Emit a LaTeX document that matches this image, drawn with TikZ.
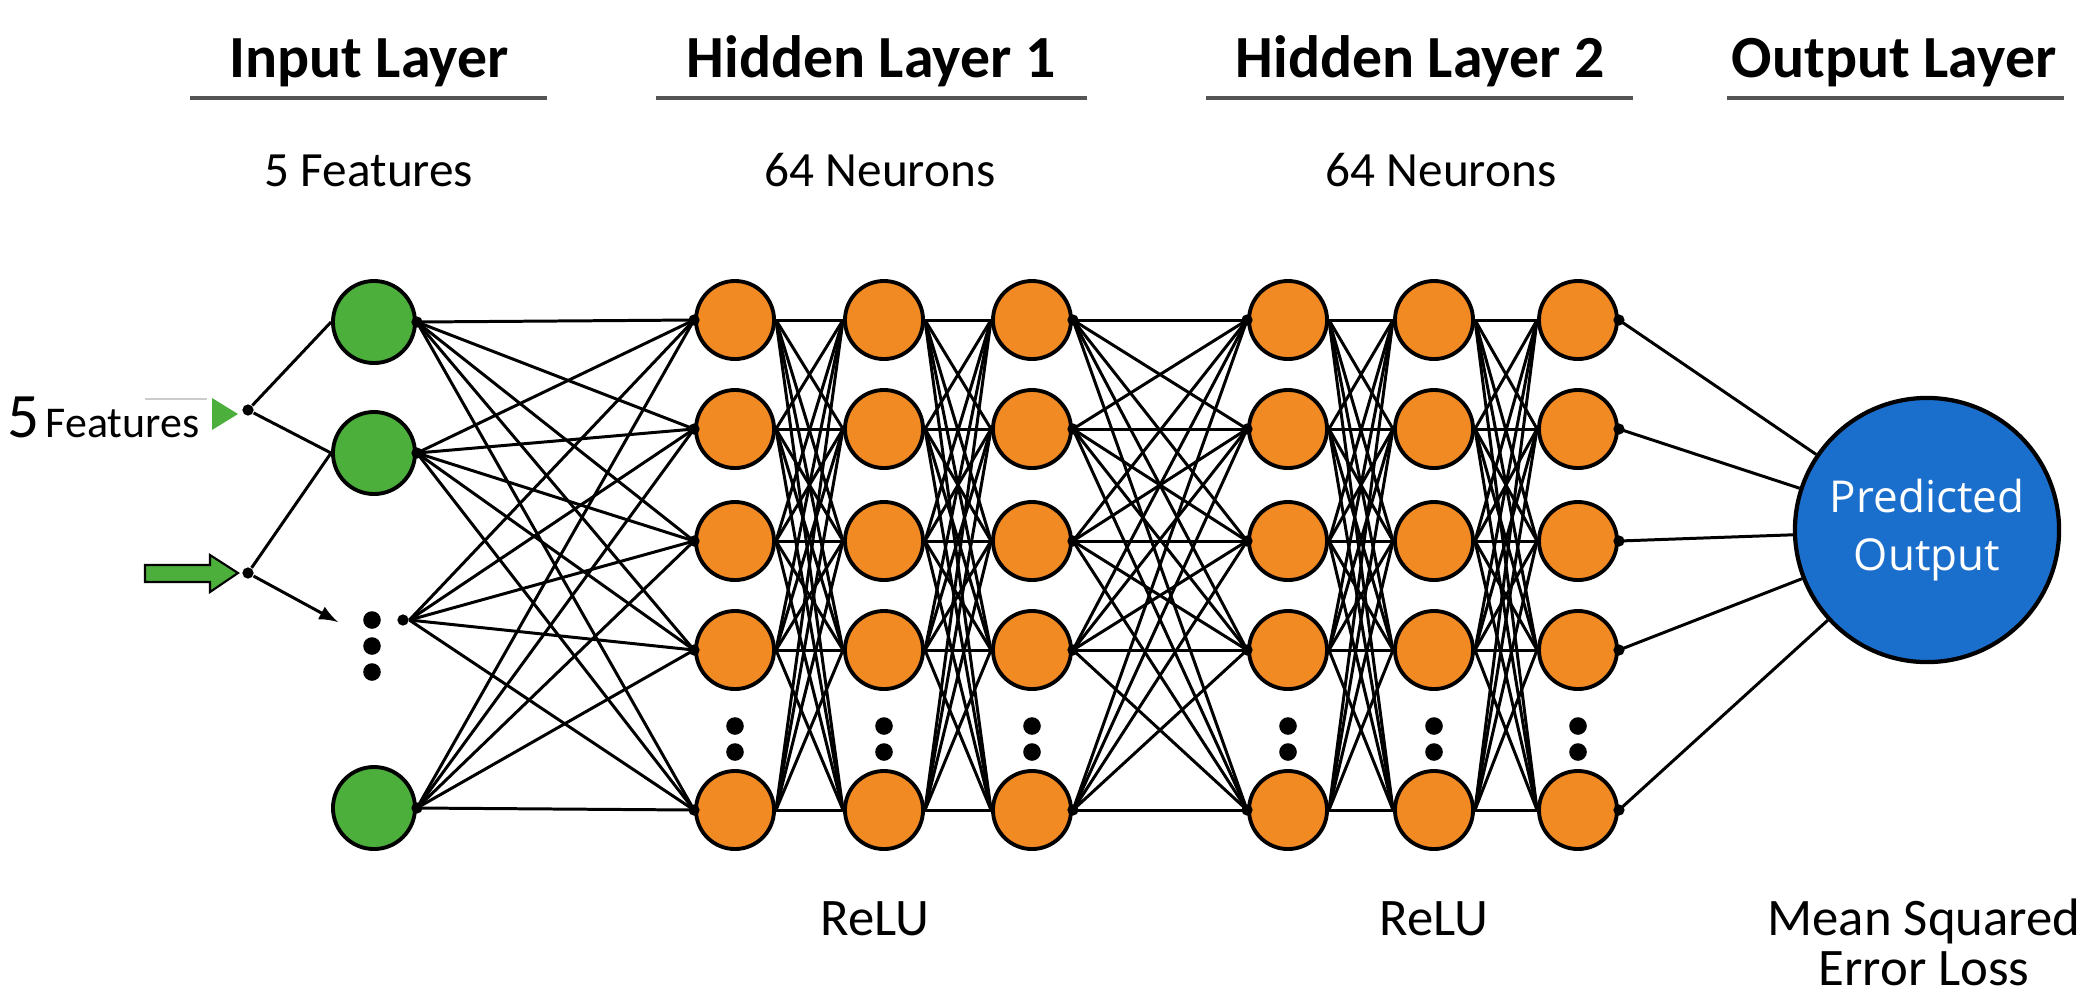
\documentclass[tikz,border=0pt]{standalone}
\usepackage{fontspec}
\setmainfont{Carlito}
\newfontfamily\opensans{Open Sans}
\usepackage{tikz}
\usetikzlibrary{positioning}

\definecolor{ingreen}{HTML}{4CAF3C}
\definecolor{hidorange}{HTML}{F28A24}
\definecolor{outblue}{HTML}{1B6FCC}
\definecolor{bargray}{HTML}{555555}

\tikzset{
  neuron/.style={circle,draw,line width=1.1pt,minimum size=0.78cm,inner sep=0pt},
  inneuron/.style={neuron,fill=ingreen,minimum size=0.82cm},
  hidneuron/.style={neuron,fill=hidorange},
  tipdot/.style={circle,fill,inner sep=0pt,minimum size=3.2pt},
  vdot/.style={circle,fill,inner sep=0pt,minimum size=5pt},
  title/.style={anchor=base,font=\fontsize{17}{20}\selectfont\bfseries},
  sub/.style={anchor=base,font=\fontsize{14}{17}\selectfont},
  bottom/.style={anchor=base,font=\fontsize{15}{18}\selectfont},
  bar/.style={draw=bargray,line width=1.2pt},
  link/.style={line width=0.85pt}
}

\begin{document}
\begin{tikzpicture}[x=0.01cm,y=-0.01cm]

\useasboundingbox (0,0) rectangle (2088,993);

% headings
\node[title] (tIn) at (369,77) {Input Layer};
\node[title] (tH1) at (871,77) {Hidden Layer 1};
\node[title] (tH2) at (1420,77) {Hidden Layer 2};
\node[title] (tOut) at (1894,77) {Output Layer};

\draw[bar] (190,98) -- (547,98);
\draw[bar] (656,98) -- (1087,98);
\draw[bar] (1206,98) -- (1633,98);
\draw[bar] (1727,98) -- (2064,98);

\node[sub] (sIn) at (369,186) {5 Features};
\node[sub] (sH1) at (880,186) {64 Neurons};
\node[sub] (sH2) at (1441,186) {64 Neurons};

% input layer
\node[inneuron] (I1) at (374,322) {};
\node[inneuron] (I2) at (374,453) {};
\node[inneuron] (I3) at (374,808) {};
\node[vdot] (Iv1) at (372,620) {};
\node[vdot] (Iv2) at (372,646) {};
\node[vdot] (Iv3) at (372,672) {};
\node[tipdot] (Id) at (403,620) {};

% hidden layers
\foreach \c/\x in {A/735,B/884,C/1032,D/1288,E/1434,F/1578}{
  \foreach \r/\y in {1/320,2/429,3/541,4/650,5/810}
    \node[hidneuron] (\c\r) at (\x,\y) {};
  \node[vdot] (\c v1) at (\x,726) {};
  \node[vdot] (\c v2) at (\x,752) {};
}

% output
\node[circle,draw,line width=1.2pt,fill=outblue,minimum size=2.64cm,
  text=white,align=center,font=\opensans\fontsize{12.5}{16.5}\selectfont] (O) at (1927,530) {Predicted\\Output};

% connections
\foreach \s in {I1,I2,Id,I3}
  \foreach \j in {1,...,5}
    \draw[link] (\s.east) -- (A\j.west);
\foreach \p/\q in {A/B,B/C,C/D,D/E,E/F}
  \foreach \i in {1,...,5}
    \foreach \j in {1,...,5}
      \draw[link] (\p\i.east) -- (\q\j.west);
\foreach \i in {1,...,5}
  \draw[link] (F\i.east) -- (O);

% small dots at the line ends
\foreach \i in {1,...,5}{
  \node[tipdot] (aw\i) at (A\i.west) {};
  \node[tipdot] (ce\i) at (C\i.east) {};
  \node[tipdot] (dw\i) at (D\i.west) {};
  \node[tipdot] (fe\i) at (F\i.east) {};
}
\foreach \s in {I1,I2,I3}
  \node[tipdot] (\s e) at (\s.east) {};

% feature inputs
\node[tipdot] (J1) at (248,410) {};
\node[tipdot] (J2) at (248,573) {};
\coordinate (Ie) at (338,622);
\draw[link] (J1) -- (I1.west);
\draw[link] (J1) -- (I2.west);
\draw[link] (J2) -- (I2.west);
\draw[link,-latex] (J2) -- (Ie);

\draw[gray!40,line width=0.4pt] (145,399) -- (207,399);
\fill[ingreen] (212,398) -- (238,414) -- (212,430) -- cycle;
\draw[fill=ingreen,line width=0.6pt] (145,565) -- (210,565) -- (210,555) -- (238,573)
  -- (210,592) -- (210,582) -- (145,582) -- cycle;

\node[anchor=base west,inner sep=0pt] (feat) at (7,437)
  {{\fontsize{18}{20}\selectfont 5}\,{\fontsize{12.5}{15}\selectfont Features}};

% activation and loss
\node[bottom] (r1) at (875,935) {ReLU};
\node[bottom] (r2) at (1434,935) {ReLU};
\node[bottom] (mse1) at (1924,935) {Mean Squared};
\node[bottom] (mse2) at (1924,985) {Error Loss};

\end{tikzpicture}
\end{document}
